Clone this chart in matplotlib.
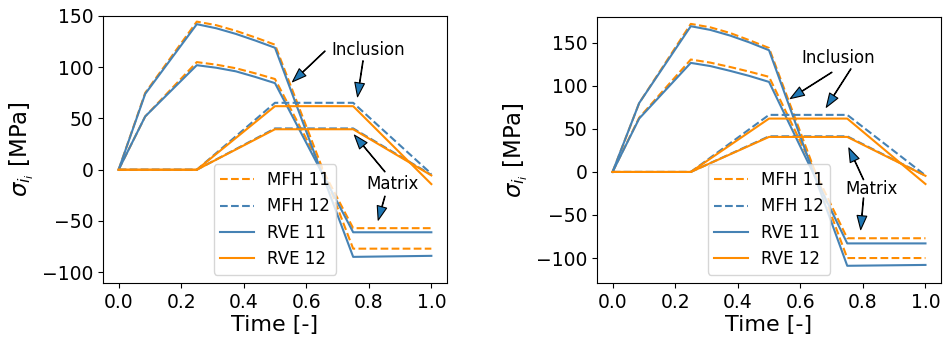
import numpy as np
import matplotlib
matplotlib.use("Agg")
import matplotlib.pyplot as plt

# time grid of the normal (11) and shear (12) loading paths
t11 = [0.0, 0.085, 0.25, 0.3125, 0.375, 0.4375, 0.5, 0.75, 1.0]
t12 = [0.0, 0.25, 0.5, 0.75, 1.0]

# left case: stresses in inclusion and matrix [MPa]
left_inc11_mfh = [0, 75, 144.5, 141, 135.5, 129, 122, -77, -77]
left_inc11_rve = [0, 74, 142, 138, 132.5, 126, 119, -85, -84]
left_mat11_mfh = [0, 52, 105, 102.5, 99, 94, 88.5, -57, -57]
left_mat11_rve = [0, 52, 102, 99.5, 96, 90.5, 84.5, -61, -61]
left_inc12_mfh = [0, 0, 65.3, 65.3, -4]
left_inc12_rve = [0, 0, 62, 62, -14]
left_mat12_mfh = [0, 0, 40.3, 40.3, -5]
left_mat12_rve = [0, 0, 39.5, 39.5, -5.5]

# right case
right_inc11_mfh = [0, 80, 172, 168, 161.5, 153, 144, -100, -100]
right_inc11_rve = [0, 80, 169.3, 165, 158.5, 150.5, 141.4, -109, -108]
right_mat11_mfh = [0, 63, 130.6, 127, 122, 116.5, 110.5, -77, -77]
right_mat11_rve = [0, 62, 126.7, 123, 117.5, 111.5, 104.6, -83, -83]
right_inc12_mfh = [0, 0, 66.3, 66.3, -4]
right_inc12_rve = [0, 0, 62, 62, -14]
right_mat12_mfh = [0, 0, 41.4, 41.4, -4.3]
right_mat12_rve = [0, 0, 40.7, 40.7, -4.5]

blue = "steelblue"
orange = "darkorange"
lw = 1.5

arrow_kw = dict(facecolor="C0", edgecolor="k", width=0.4, headwidth=7,
                headlength=10, lw=0.8)


def draw(ax, inc11, mat11, inc12, mat12, ylim, inc_txt, inc_tips, inc_tails,
         mat_txt, mat_tips, mat_tails):
    # MFH 11
    ax.plot(t11, inc11[0], "--", color=orange, lw=lw, label="MFH 11")
    ax.plot(t11, mat11[0], "--", color=orange, lw=lw)
    # MFH 12
    ax.plot(t12, inc12[0], "--", color=blue, lw=lw, label="MFH 12")
    ax.plot(t12, mat12[0], "--", color=blue, lw=lw)
    # RVE 11
    ax.plot(t11, inc11[1], "-", color=blue, lw=lw, label="RVE 11")
    ax.plot(t11, mat11[1], "-", color=blue, lw=lw)
    # RVE 12
    ax.plot(t12, inc12[1], "-", color=orange, lw=lw, label="RVE 12")
    ax.plot(t12, mat12[1], "-", color=orange, lw=lw)

    ax.set_ylim(*ylim)
    ax.set_xticks([0.0, 0.2, 0.4, 0.6, 0.8, 1.0])
    ax.set_yticks([-100, -50, 0, 50, 100, 150])
    ax.tick_params(labelsize=13.5)
    ax.set_xlabel("Time [-]", fontsize=16, labelpad=2)
    ax.set_ylabel(r"$\sigma_{i_i}$ [MPa]", fontsize=16.5)
    ax.legend(loc="lower center", fontsize=12)

    ax.text(*inc_txt, "Inclusion", fontsize=12, ha="center", va="center")
    for tip, tail in zip(inc_tips, inc_tails):
        ax.annotate("", xy=tip, xytext=tail, arrowprops=arrow_kw)
    ax.text(*mat_txt, "Matrix", fontsize=12, ha="center", va="center")
    for tip, tail in zip(mat_tips, mat_tails):
        ax.annotate("", xy=tip, xytext=tail, arrowprops=arrow_kw)


fig = plt.figure(figsize=(9.43, 3.38), dpi=100)
ax1 = fig.add_axes([0.1092, 0.1627, 0.3648, 0.79])
ax2 = fig.add_axes([0.633, 0.1627, 0.365, 0.787])

draw(ax1,
     (left_inc11_mfh, left_inc11_rve), (left_mat11_mfh, left_mat11_rve),
     (left_inc12_mfh, left_inc12_rve), (left_mat12_mfh, left_mat12_rve),
     (-110.5, 150),
     (0.798, 116.8), [(0.556, 85.8), (0.764, 71.2)], [(0.660, 115.8), (0.7815, 106.3)],
     (0.875, -13.6), [(0.754, 33.8), (0.830, -49.2)], [(0.8516, -2.0), (0.8516, -25.8)])

draw(ax2,
     (right_inc11_mfh, right_inc11_rve), (right_mat11_mfh, right_mat11_rve),
     (right_inc12_mfh, right_inc12_rve), (right_mat12_mfh, right_mat12_rve),
     (-129, 180),
     (0.721, 132.9), [(0.568, 85.2), (0.683, 75.1)], [(0.701, 115.8), (0.7617, 119.8)],
     (0.827, -19.4), [(0.755, 27.9), (0.793, -67.0)], [(0.802, -9.0), (0.802, -30.2)])

fig.savefig("out.png", dpi=100)
